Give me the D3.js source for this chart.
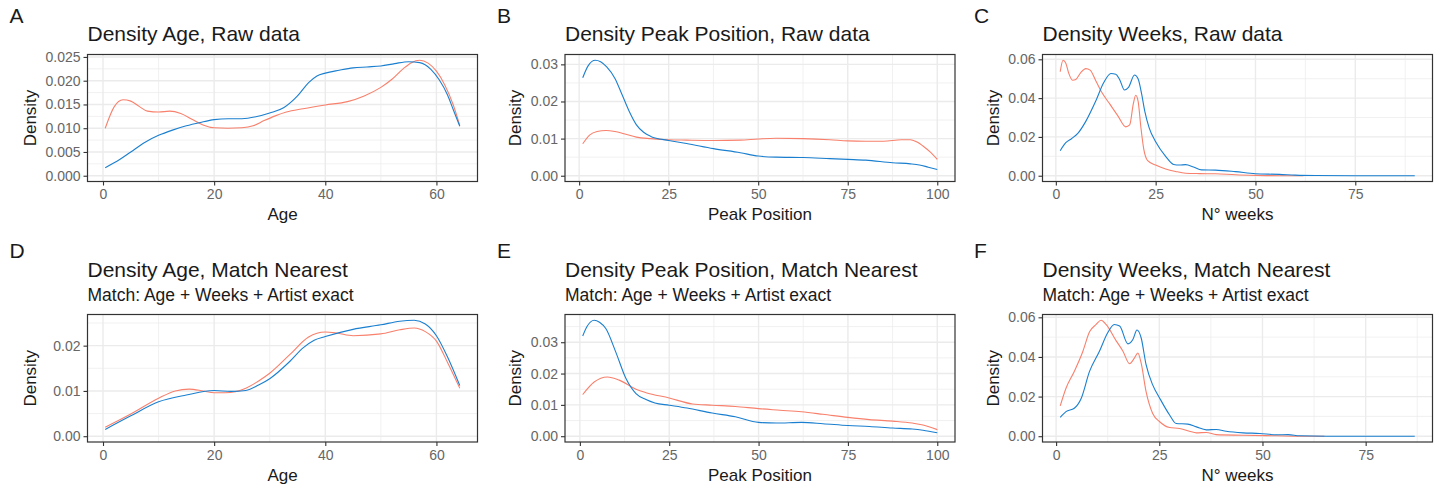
<!DOCTYPE html>
<html>
<head>
<meta charset="utf-8">
<script src="https://cdn.jsdelivr.net/npm/d3@7"></script>
<style>
  body { margin: 0; background: #ffffff; }
  svg text { font-family: "Liberation Sans", Arial, Helvetica, sans-serif; }
</style>
</head>
<body>
<svg id="chart" width="1442" height="485"></svg>
<script>
// ---- Density estimates (x grid, density) for the two groups in each panel ----
// Group 1 (blue) and group 2 (salmon)

// A: Age, raw data
const ageRawX1 = [0.4, 3, 5, 7.5, 10, 12.5, 15, 17.5, 20, 22.5, 25, 27.5, 30, 32.5, 35, 37, 38.5, 40, 42.5, 45, 47.5, 50, 52.5, 55, 57, 59, 60.5, 62, 63, 64.2];
const ageRawY1 = [0.0017, 0.0034, 0.0050, 0.0070, 0.0085, 0.0096, 0.0105, 0.0112, 0.0118, 0.0120, 0.0120, 0.0124, 0.0132, 0.0143, 0.0168, 0.0196, 0.0210, 0.0216, 0.0222, 0.0227, 0.0229, 0.0231, 0.0236, 0.0240, 0.0238, 0.0224, 0.0202, 0.0170, 0.0140, 0.0104];
const ageRawX2 = [0.4, 2, 3.6, 5, 6.5, 8, 10, 12, 14, 16, 18, 20, 22.5, 25, 27, 29, 31, 33, 36, 40, 44, 47, 50, 52, 54, 55.5, 57, 58.5, 60, 61.5, 63, 64.2];
const ageRawY2 = [0.0100, 0.0145, 0.0160, 0.0157, 0.0146, 0.0136, 0.0134, 0.0136, 0.0131, 0.0119, 0.0107, 0.0101, 0.0100, 0.0101, 0.0105, 0.0116, 0.0126, 0.0134, 0.0141, 0.0149, 0.0156, 0.0168, 0.0186, 0.0203, 0.0225, 0.0238, 0.0243, 0.0237, 0.0220, 0.0191, 0.0150, 0.0106];

// B: Peak position, raw data
const peakRawX1 = [1, 2.5, 4.5, 6, 7.7, 10, 12, 14, 16, 18, 20, 25, 30, 37.5, 45, 50, 55, 62.5, 70, 75, 80, 87.5, 92.5, 95, 97.5, 100];
const peakRawY1 = [0.0264, 0.0296, 0.0311, 0.0307, 0.0293, 0.0262, 0.0218, 0.0173, 0.0137, 0.0117, 0.0106, 0.0095, 0.0087, 0.0073, 0.0062, 0.0053, 0.0050, 0.0049, 0.0046, 0.0044, 0.0042, 0.0035, 0.0032, 0.0029, 0.0023, 0.0017];
const peakRawX2 = [1, 3, 5, 7.5, 10, 12.5, 16, 20, 25, 30, 37.5, 45, 50, 55, 62.5, 70, 75, 80, 85, 90, 92.5, 94.5, 96, 98, 100];
const peakRawY2 = [0.0086, 0.0110, 0.0119, 0.0122, 0.0119, 0.0113, 0.0104, 0.0100, 0.0097, 0.0096, 0.0095, 0.0096, 0.0099, 0.0101, 0.0100, 0.0097, 0.0094, 0.0093, 0.0093, 0.0097, 0.0097, 0.0090, 0.0080, 0.0064, 0.0044];

// C: Weeks, raw data
const weeksRawX1 = [1.1, 2.5, 4, 5.5, 7.5, 10, 12, 13.8, 15, 16, 17.2, 18.2, 19.7, 20.6, 21.5, 22.3, 23.4, 25, 27.5, 29.5, 31, 32.5, 34.5, 36.5, 40, 45, 50, 56, 60, 65, 75, 89.9];
const weeksRawY1 = [0.0129, 0.0170, 0.0192, 0.0218, 0.0280, 0.0385, 0.0480, 0.0527, 0.0523, 0.0495, 0.0442, 0.0455, 0.0519, 0.0500, 0.0420, 0.0330, 0.0245, 0.0175, 0.0100, 0.0058, 0.0055, 0.0057, 0.0045, 0.0030, 0.0029, 0.0021, 0.0010, 0.0007, 0.0003, 0.0001, 0.0000, 0.0000];
const weeksRawX2 = [1.1, 1.8, 2.5, 3.2, 4.2, 5, 6.2, 7.5, 8.6, 10, 11.5, 13.5, 15.5, 17.5, 18.5, 19.4, 20, 20.6, 21.3, 22, 23, 25, 27.5, 30, 32.5, 36, 40, 45, 50, 56, 62];
const weeksRawY2 = [0.0536, 0.0595, 0.0580, 0.0530, 0.0492, 0.0496, 0.0530, 0.0552, 0.0544, 0.0490, 0.0430, 0.0370, 0.0310, 0.0252, 0.0262, 0.0370, 0.0415, 0.0385, 0.0250, 0.0140, 0.0078, 0.0055, 0.0035, 0.0022, 0.0013, 0.0011, 0.0010, 0.0005, 0.0002, 0.0000, 0.0000];

// D: Age, matched sample
const ageMatchX1 = [0.4, 5, 10, 15, 20, 23, 25.7, 28, 30, 33.6, 36, 38, 40, 45, 50, 53.4, 56, 58, 60, 62, 64.2];
const ageMatchY1 = [0.0015, 0.0045, 0.0076, 0.0091, 0.0101, 0.0099, 0.0101, 0.0113, 0.0127, 0.0165, 0.0195, 0.0212, 0.0220, 0.0236, 0.0246, 0.0254, 0.0256, 0.0248, 0.0222, 0.0175, 0.0112];
const ageMatchX2 = [0.4, 5, 10, 13, 15.5, 18, 20, 22, 25.7, 28, 30, 33.6, 37, 40, 42, 45, 50, 53.4, 56, 58, 60, 62, 64.2];
const ageMatchY2 = [0.0020, 0.0049, 0.0084, 0.0100, 0.0104, 0.0100, 0.0096, 0.0096, 0.0106, 0.0122, 0.0139, 0.0180, 0.0219, 0.0230, 0.0228, 0.0222, 0.0226, 0.0235, 0.0239, 0.0231, 0.0210, 0.0163, 0.0106];

// E: Peak position, matched sample
const peakMatchX1 = [0.8, 2, 4, 5.5, 7.3, 10, 12.9, 15.7, 18.5, 21, 25, 30, 37, 43.5, 50, 55, 62, 68, 75, 81, 87.5, 93, 96, 100];
const peakMatchY1 = [0.0320, 0.0350, 0.0370, 0.0364, 0.0343, 0.0270, 0.0184, 0.0136, 0.0117, 0.0106, 0.0099, 0.0090, 0.0074, 0.0062, 0.0044, 0.0042, 0.0044, 0.0040, 0.0034, 0.0031, 0.0026, 0.0023, 0.0019, 0.0011];
const peakMatchX2 = [0.8, 4, 7.7, 11, 15.7, 18.5, 25, 31.5, 37, 43.5, 50, 56, 62, 68, 75, 81, 87.5, 93, 96, 100];
const peakMatchY2 = [0.0133, 0.0173, 0.0189, 0.0179, 0.0150, 0.0139, 0.0122, 0.0103, 0.0099, 0.0095, 0.0088, 0.0083, 0.0078, 0.0070, 0.0060, 0.0053, 0.0048, 0.0042, 0.0036, 0.0021];

// F: Weeks, matched sample
const weeksMatchX1 = [1, 2.4, 4.4, 6.1, 8.1, 10.5, 12.5, 14.1, 15.4, 17.4, 18.6, 19.6, 20.6, 21.8, 23.4, 25.1, 27.5, 29.1, 31.9, 34, 36.4, 38.8, 41.2, 45.3, 49.3, 53.4, 56.2, 59, 65.5, 86.9];
const weeksMatchY1 = [0.0095, 0.0124, 0.0141, 0.0192, 0.0327, 0.0429, 0.0522, 0.0564, 0.0556, 0.0466, 0.0488, 0.0536, 0.0497, 0.0361, 0.0259, 0.0192, 0.0107, 0.0064, 0.0061, 0.0047, 0.0032, 0.0034, 0.0025, 0.0017, 0.0014, 0.0007, 0.0008, 0.0002, 0.0000, 0.0000];
const weeksMatchX2 = [1, 2.4, 4.4, 6.5, 8.1, 9.7, 10.9, 12.1, 14.6, 16.2, 17.8, 19, 19.8, 20.6, 21.8, 23.4, 25.1, 27.5, 29.9, 32.3, 34, 36.4, 38.8, 45.3, 53.4, 59, 65];
const weeksMatchY2 = [0.0153, 0.0242, 0.0327, 0.0429, 0.0527, 0.0564, 0.0585, 0.0564, 0.0480, 0.0429, 0.0366, 0.0395, 0.0420, 0.0370, 0.0225, 0.0115, 0.0073, 0.0044, 0.0039, 0.0025, 0.0017, 0.0019, 0.0008, 0.0005, 0.0002, 0.0000, 0.0000];

// ---- Axis breaks ----
const ageTicks = [0, 20, 40, 60];
const peakTicks = [0, 25, 50, 75, 100];
const weeksTicks = [0, 25, 50, 75];
const densityTicksAgeRaw = [0, 0.005, 0.01, 0.015, 0.02, 0.025];
const densityTicksPeakRaw = [0, 0.01, 0.02, 0.03];
const densityTicksWeeks = [0, 0.02, 0.04, 0.06];
const densityTicksAgeMatch = [0, 0.01, 0.02];
const densityTicksPeakMatch = [0, 0.01, 0.02, 0.03];

// ---- Panel text ----
const tags = ["A", "B", "C", "D", "E", "F"];
const titles = [
  "Density Age, Raw data", "Density Peak Position, Raw data", "Density Weeks, Raw data",
  "Density Age, Match Nearest", "Density Peak Position, Match Nearest", "Density Weeks, Match Nearest"
];
const subtitle = "Match: Age + Weeks + Artist exact";
const xTitles = ["Age", "Peak Position", "N° weeks"];
const yTitle = "Density";

const zip = (xs, ys) => xs.map((x, i) => ({ x, y: ys[i] }));

const panels = [
  { s1: zip(ageRawX1, ageRawY1), s2: zip(ageRawX2, ageRawY2), xt: ageTicks, yt: densityTicksAgeRaw, fmt: ".3f" },
  { s1: zip(peakRawX1, peakRawY1), s2: zip(peakRawX2, peakRawY2), xt: peakTicks, yt: densityTicksPeakRaw, fmt: ".2f" },
  { s1: zip(weeksRawX1, weeksRawY1), s2: zip(weeksRawX2, weeksRawY2), xt: weeksTicks, yt: densityTicksWeeks, fmt: ".2f" },
  { s1: zip(ageMatchX1, ageMatchY1), s2: zip(ageMatchX2, ageMatchY2), xt: ageTicks, yt: densityTicksAgeMatch, fmt: ".2f" },
  { s1: zip(peakMatchX1, peakMatchY1), s2: zip(peakMatchX2, peakMatchY2), xt: peakTicks, yt: densityTicksPeakMatch, fmt: ".2f" },
  { s1: zip(weeksMatchX1, weeksMatchY1), s2: zip(weeksMatchX2, weeksMatchY2), xt: weeksTicks, yt: densityTicksWeeks, fmt: ".2f" }
];

// ---- Layout ----
const colLeft = [87.5, 565, 1042.5];
const panelW = 390;
const rowTop = [54.5, 314.5];
const rowBottom = [181.5, 442];
const tagX = [9.5, 497, 974];
const tagY = [22.5, 258];
const titleY = [40.5, 276.5];
const subtitleY = 301;
const yTitleX = [35.5, 521, 999];

const colour1 = "#1a7fcf";
const colour2 = "#f8806c";
const gridColour = "#ebebeb";
const inkColour = "#333333";

const svg = d3.select("#chart");
svg.append("rect").attr("width", 1442).attr("height", 485).attr("fill", "#fff");

const expand = ([lo, hi]) => { const d = (hi - lo) * 0.05; return [lo - d, hi + d]; };

panels.forEach((p, i) => {
  const col = i % 3, row = Math.floor(i / 3);
  const left = colLeft[col], right = left + panelW;
  const top = rowTop[row], bottom = rowBottom[row];
  const all = p.s1.concat(p.s2);

  const x = d3.scaleLinear().domain(expand(d3.extent(all, d => d.x))).range([left, right]);
  const y = d3.scaleLinear().domain(expand([0, d3.max(all, d => d.y)])).range([bottom, top]);

  const g = svg.append("g");

  // minor breaks halfway between the major ones
  const minor = (ticks, dom) => {
    const step = ticks[1] - ticks[0];
    const out = [];
    for (let v = ticks[0] - step / 2; v <= dom[1]; v += step) if (v >= dom[0]) out.push(v);
    return out;
  };
  const xd = x.domain(), yd = y.domain();

  g.selectAll(".gxm").data(minor(p.xt, xd)).join("line")
    .attr("x1", d => x(d)).attr("x2", d => x(d)).attr("y1", top).attr("y2", bottom)
    .attr("stroke", gridColour).attr("stroke-width", 0.7);
  g.selectAll(".gym").data(minor(p.yt, yd)).join("line")
    .attr("y1", d => y(d)).attr("y2", d => y(d)).attr("x1", left).attr("x2", right)
    .attr("stroke", gridColour).attr("stroke-width", 0.7);
  g.selectAll(".gx").data(p.xt.filter(v => v >= xd[0] && v <= xd[1])).join("line")
    .attr("x1", d => x(d)).attr("x2", d => x(d)).attr("y1", top).attr("y2", bottom)
    .attr("stroke", gridColour).attr("stroke-width", 1.4);
  g.selectAll(".gy").data(p.yt).join("line")
    .attr("y1", d => y(d)).attr("y2", d => y(d)).attr("x1", left).attr("x2", right)
    .attr("stroke", gridColour).attr("stroke-width", 1.4);

  // density curves
  const line = d3.line().x(d => x(d.x)).y(d => y(d.y)).curve(d3.curveMonotoneX);
  g.append("path").datum(p.s2).attr("d", line).attr("fill", "none")
    .attr("stroke", colour2).attr("stroke-width", 1.1);
  g.append("path").datum(p.s1).attr("d", line).attr("fill", "none")
    .attr("stroke", colour1).attr("stroke-width", 1.1);

  // panel border
  g.append("rect").attr("x", left).attr("y", top).attr("width", panelW).attr("height", bottom - top)
    .attr("fill", "none").attr("stroke", inkColour).attr("stroke-width", 1.2);

  // axes
  const xAxis = d3.axisBottom(x).tickValues(p.xt).tickSize(4).tickPadding(4).tickFormat(d3.format("d"));
  const yAxis = d3.axisLeft(y).tickValues(p.yt).tickSize(4).tickPadding(3).tickFormat(d3.format(p.fmt));
  const gx = g.append("g").attr("transform", `translate(0,${bottom})`).call(xAxis);
  const gy = g.append("g").attr("transform", `translate(${left},0)`).call(yAxis);
  [gx, gy].forEach(a => {
    a.select(".domain").remove();
    a.selectAll(".tick line").attr("stroke", inkColour).attr("stroke-width", 1.1);
    a.selectAll(".tick text").attr("fill", "#666666").attr("font-size", 14)
      .style("font-family", '"Liberation Sans", Arial, sans-serif');
  });

  // labels
  g.append("text").attr("x", tagX[col]).attr("y", tagY[row]).attr("font-size", 21).attr("fill", "#1a1a1a").text(tags[i]);
  g.append("text").attr("x", left).attr("y", titleY[row]).attr("font-size", 21).attr("fill", "#1a1a1a").text(titles[i]);
  if (row === 1) {
    g.append("text").attr("x", left).attr("y", subtitleY).attr("font-size", 17.5).attr("fill", "#1a1a1a").text(subtitle);
  }
  g.append("text").attr("x", (left + right) / 2).attr("y", bottom + 38.5).attr("text-anchor", "middle")
    .attr("font-size", 17).attr("fill", "#1a1a1a").text(xTitles[col]);
  g.append("text").attr("transform", `translate(${yTitleX[col]},${(top + bottom) / 2}) rotate(-90)`)
    .attr("text-anchor", "middle").attr("font-size", 17).attr("fill", "#1a1a1a").text(yTitle);
});
</script>
</body>
</html>
